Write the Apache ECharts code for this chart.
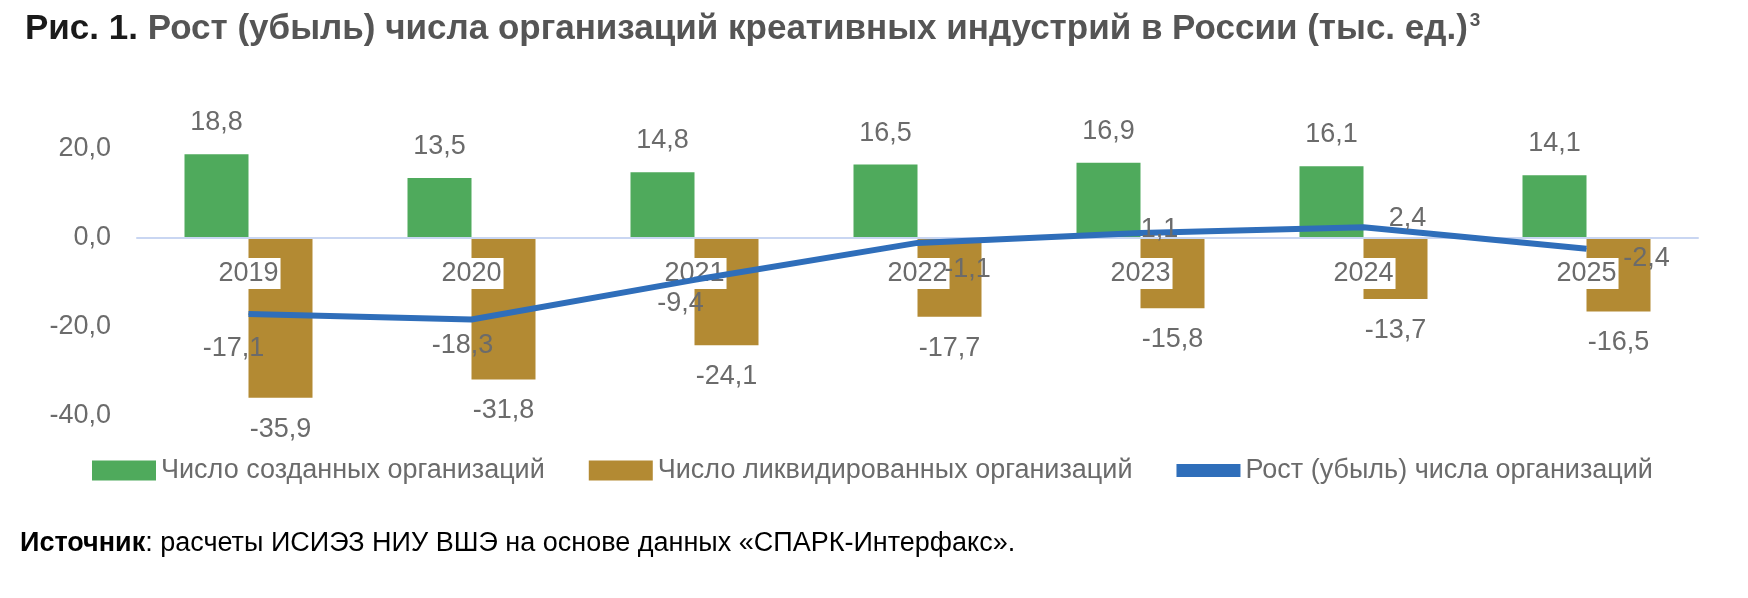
<!DOCTYPE html>
<html>
<head>
<meta charset="utf-8">
<script src="https://cdn.jsdelivr.net/npm/echarts@6/dist/echarts.min.js"></script>
<style>
  html, body { margin: 0; padding: 0; background: #fff; }
  #chart { width: 1748px; height: 598px; }
</style>
</head>
<body>
<div id="chart"></div>
<script>
// данные графика
var years = ['2019', '2020', '2021', '2022', '2023', '2024', '2025'];
var created = [18.8, 13.5, 14.8, 16.5, 16.9, 16.1, 14.1];
var liquidated = [-35.9, -31.8, -24.1, -17.7, -15.8, -13.7, -16.5];
var growth = [-17.1, -18.3, -9.4, -1.1, 1.1, 2.4, -2.4];
// смещения подписей линии (как в исходнике)
var growthLabelOffsets = [[-15, 34], [-9, 26], [-14, 24], [50, 27], [19, -4], [44, -9], [60, 10]];

var fmt = function (v) { return v.toFixed(1).replace('.', ','); };
var grey = '#6b6b6b';
var font = 'Liberation Sans, Arial, sans-serif';
var fs = 27;

var myChart = echarts.init(document.getElementById('chart'));
var option = {
    animation: false,
    textStyle: { fontFamily: font },
    title: {
        text: '{a|Рис. 1. }{b|Рост (убыль) числа организаций креативных индустрий в России (тыс. ед.)}{s|3}',
        left: 20, top: 6,
        textStyle: {
            rich: {
                a: { fontSize: 35, fontWeight: 'bold', color: '#1a1a1a', fontFamily: font },
                b: { fontSize: 35, fontWeight: 'bold', color: '#555', fontFamily: font },
                s: { fontSize: 19, fontWeight: 'bold', color: '#555', fontFamily: font, verticalAlign: 'top', padding: [0, 0, 18, 2] }
            }
        }
    },
    graphic: [{
        type: 'text', left: 20, top: 530,
        style: {
            text: '{b|Источник}: расчеты ИСИЭЗ НИУ ВШЭ на основе данных «СПАРК-Интерфакс».',
            fill: '#000', fontSize: 27, fontFamily: font,
            rich: { b: { fontWeight: 'bold', fontSize: 27, fill: '#000', fontFamily: font } }
        }
    }],
    legend: {
        top: 452, left: 87,
        itemWidth: 64, itemHeight: 20, itemGap: 44,
        textStyle: { fontSize: fs, color: grey, fontFamily: font },
        data: [
            { name: 'Число созданных организаций', icon: 'rect' },
            { name: 'Число ликвидированных организаций', icon: 'rect' },
            { name: 'Рост (убыль) числа организаций', icon: 'path://M0,4 L10,4 L10,6 L0,6 Z' }
        ]
    },
    grid: { left: 137, right: 50, top: 149, bottom: 182 },
    xAxis: {
        type: 'category', data: years,
        offset: -178,
        axisLine: { onZero: false, lineStyle: { color: '#c9d6f2', width: 2 } },
        axisTick: { show: false },
        axisLabel: { fontSize: fs, color: grey, margin: 20, backgroundColor: '#fff', padding: [2, 2] },
        z: 10
    },
    yAxis: {
        type: 'value', min: -40, max: 20, interval: 20,
        splitLine: { show: false },
        axisLine: { show: false },
        axisLabel: { fontSize: fs, color: grey, margin: 26, formatter: fmt }
    },
    series: [
        {
            name: 'Число созданных организаций', type: 'bar',
            data: created, barWidth: 64, barGap: '0%',
            itemStyle: { color: '#4faa5c' },
            label: { show: true, position: 'top', distance: 18, fontSize: fs, color: grey, formatter: function (p) { return fmt(p.value); } }
        },
        {
            name: 'Число ликвидированных организаций', type: 'bar',
            data: liquidated, barWidth: 64,
            itemStyle: { color: '#b38a33' },
            label: { show: true, position: 'bottom', distance: 18, fontSize: fs, color: grey, formatter: function (p) { return fmt(p.value); } }
        },
        {
            name: 'Рост (убыль) числа организаций', type: 'line',
            data: growth.map(function (v, i) {
                var o = growthLabelOffsets[i];
                return { value: v, label: { offset: [o[0], o[1] + 19] } };
            }),
            z: 20,
            symbol: 'circle', symbolSize: 1, showSymbol: true,
            lineStyle: { color: '#2f6eba', width: 6 },
            itemStyle: { color: '#2f6eba' },
            label: { show: true, position: 'top', distance: 5, fontSize: fs, color: grey, formatter: function (p) { return fmt(p.value); } }
        }
    ]
};
myChart.setOption(option);
</script>
</body>
</html>
